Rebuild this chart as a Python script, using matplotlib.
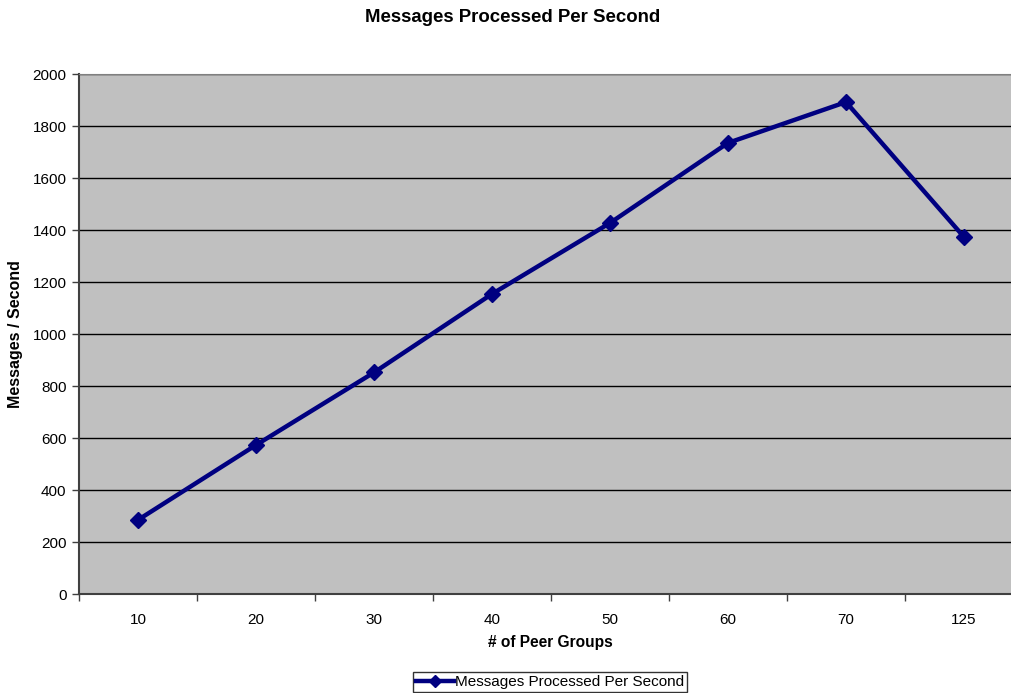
import matplotlib
matplotlib.use("Agg")
import matplotlib.pyplot as plt
import numpy as np

plt.rcParams['font.family'] = ['Liberation Sans', 'DejaVu Sans']

categories = ["10", "20", "30", "40", "50", "60", "70", "125"]
values = [285, 573, 852, 1154, 1427, 1735, 1892, 1373]
series_name = "Messages Processed Per Second"

fig = plt.figure(figsize=(10.12, 6.93), dpi=100)
ax = fig.add_axes([79/1012, 99/693, 944/1012, 520/693])
ax.set_facecolor('#C0C0C0')

x = np.arange(len(categories))
ax.plot(x, values, color='#000080', lw=3.2, marker='D', ms=8, label=series_name)

ax.set_xlim(-0.5, len(categories) - 0.5)
ax.set_ylim(0, 2000)
ax.set_yticks(np.arange(0, 2001, 200))
ax.set_xticks(x)
ax.set_xticklabels(categories)
ax.set_xticks(np.arange(-0.5, len(categories), 1), minor=True)
ax.tick_params(axis='x', which='major', length=0, labelsize=11, pad=14)
ax.tick_params(axis='x', which='minor', length=5, width=1, color='#404040', direction='out')
ax.tick_params(axis='y', length=5, width=1, color='#404040', direction='out', labelsize=11, pad=4)
ax.grid(axis='y', color='black', lw=1)
ax.set_axisbelow(True)

ax.spines['right'].set_visible(False)
ax.spines['top'].set_color('#808080')
ax.spines['left'].set_color('#404040')
ax.spines['bottom'].set_color('#404040')
ax.spines['left'].set_linewidth(1.5)
ax.spines['bottom'].set_linewidth(1.5)

fig.text(513/1012, 1 - 18/693, "Messages Processed Per Second", ha='center', va='center',
         fontsize=13.4, fontweight='bold')
fig.text(550/1012, 1 - 643/693, "# of Peer Groups", ha='center', va='center',
         fontsize=11.2, fontweight='bold')
fig.text(16/1012, 1 - 334/693, "Messages / Second", ha='center', va='center',
         fontsize=11.5, fontweight='bold', rotation=90)

leg = fig.legend(loc='center', bbox_to_anchor=(550/1012, 1 - 682/693), fontsize=11,
                 frameon=True, fancybox=False, edgecolor='black', borderpad=0.2,
                 handlelength=2.5, handletextpad=0.1, borderaxespad=0, markerscale=0.8)
leg.get_frame().set_linewidth(1)

fig.savefig("out.png", dpi=100)
